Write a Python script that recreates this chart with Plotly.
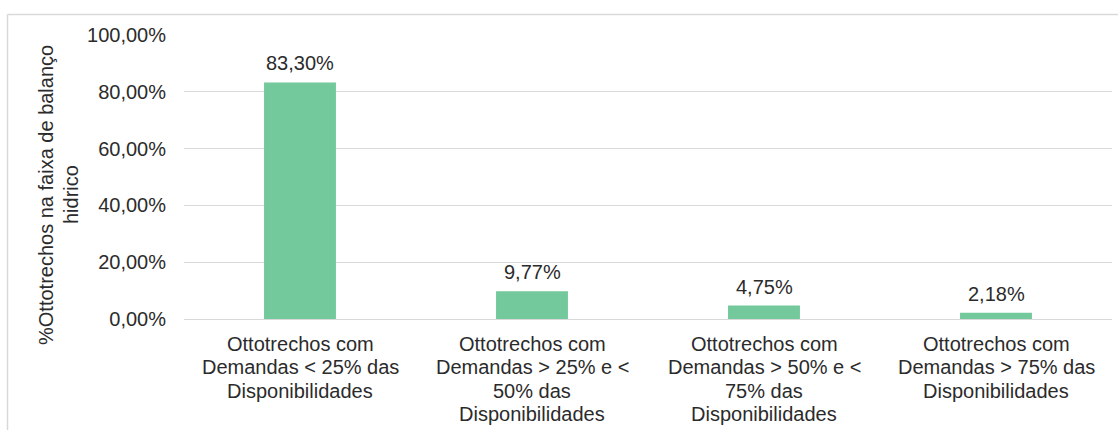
import plotly.graph_objects as go

categories = [
    "Ottotrechos com<br>Demandas < 25% das<br>Disponibilidades",
    "Ottotrechos com<br>Demandas > 25% e <<br>50% das<br>Disponibilidades",
    "Ottotrechos com<br>Demandas > 50% e <<br>75% das<br>Disponibilidades",
    "Ottotrechos com<br>Demandas > 75% das<br>Disponibilidades",
]
values = [83.30, 9.77, 4.75, 2.18]
tick_vals = [0, 20, 40, 60, 80, 100]
tick_text = ["0,00%", "20,00%", "40,00%", "60,00%", "80,00%", "100,00%"]
y_title_lines = ["%Ottotrechos na faixa de balanço", "hidrico"]


def fmt(v):
    return f"{v:.2f}".replace(".", ",") + "%"


FONT = "Liberation Sans, Arial, sans-serif"
TXT = "#2b2b2b"
FS = 20
W, H = 1118, 430
ML, MR, MT, MB = 184, 6, 35, 111
pw = W - ML - MR
ph = H - MT - MB


def px_x(p):
    return (p - ML) / pw


def px_y(p):
    return (H - MB - p) / ph


fig = go.Figure(
    go.Bar(
        x=categories,
        y=values,
        marker=dict(color="#73c99c", line=dict(width=0)),
        width=0.31,
        hoverinfo="skip",
    )
)

# value labels above bars
for c, v in zip(categories, values):
    fig.add_annotation(
        x=c, y=v, text=fmt(v), showarrow=False,
        yanchor="bottom", yshift=6,
        font=dict(family=FONT, size=FS, color=TXT),
    )

# category labels, one line at a time for tighter line spacing
LINE_GAP = 23.5
for c in categories:
    for i, line in enumerate(c.split("<br>")):
        fig.add_annotation(
            x=c, y=0, text=line, showarrow=False,
            yanchor="middle", yshift=-(24.5 + i * LINE_GAP),
            font=dict(family=FONT, size=FS, color=TXT),
        )

# y-axis title (two rotated lines)
for cx, line in zip([46, 71], y_title_lines):
    fig.add_annotation(
        xref="paper", yref="paper", x=px_x(cx), y=px_y(195),
        text=line, textangle=-90, showarrow=False,
        xanchor="center", yanchor="middle",
        font=dict(family=FONT, size=FS, color=TXT),
    )

# chart frame (top and left edges)
fig.add_shape(
    type="line", xref="paper", yref="paper",
    x0=px_x(7.5), x1=px_x(W), y0=px_y(14.5), y1=px_y(14.5),
    line=dict(color="#d9d9d9", width=1.5),
)
fig.add_shape(
    type="line", xref="paper", yref="paper",
    x0=px_x(7.5), x1=px_x(7.5), y0=px_y(14.5), y1=px_y(H),
    line=dict(color="#d9d9d9", width=1.5),
)

fig.update_layout(
    width=W, height=H,
    margin=dict(l=ML, r=MR, t=MT, b=MB),
    plot_bgcolor="white", paper_bgcolor="white",
    showlegend=False,
    font=dict(family=FONT, size=FS, color=TXT),
    xaxis=dict(
        showgrid=False, showline=False, zeroline=False,
        ticks="", showticklabels=False,
    ),
    yaxis=dict(
        range=[0, 100],
        tickvals=tick_vals, ticktext=tick_text,
        showgrid=True, gridcolor="#d9d9d9", gridwidth=1,
        zeroline=True, zerolinecolor="#d9d9d9", zerolinewidth=1,
        showline=False, ticks="", ticklen=0,
        ticklabelstandoff=17,
        tickfont=dict(family=FONT, size=FS, color=TXT),
    ),
)

fig.write_html("out.html")
